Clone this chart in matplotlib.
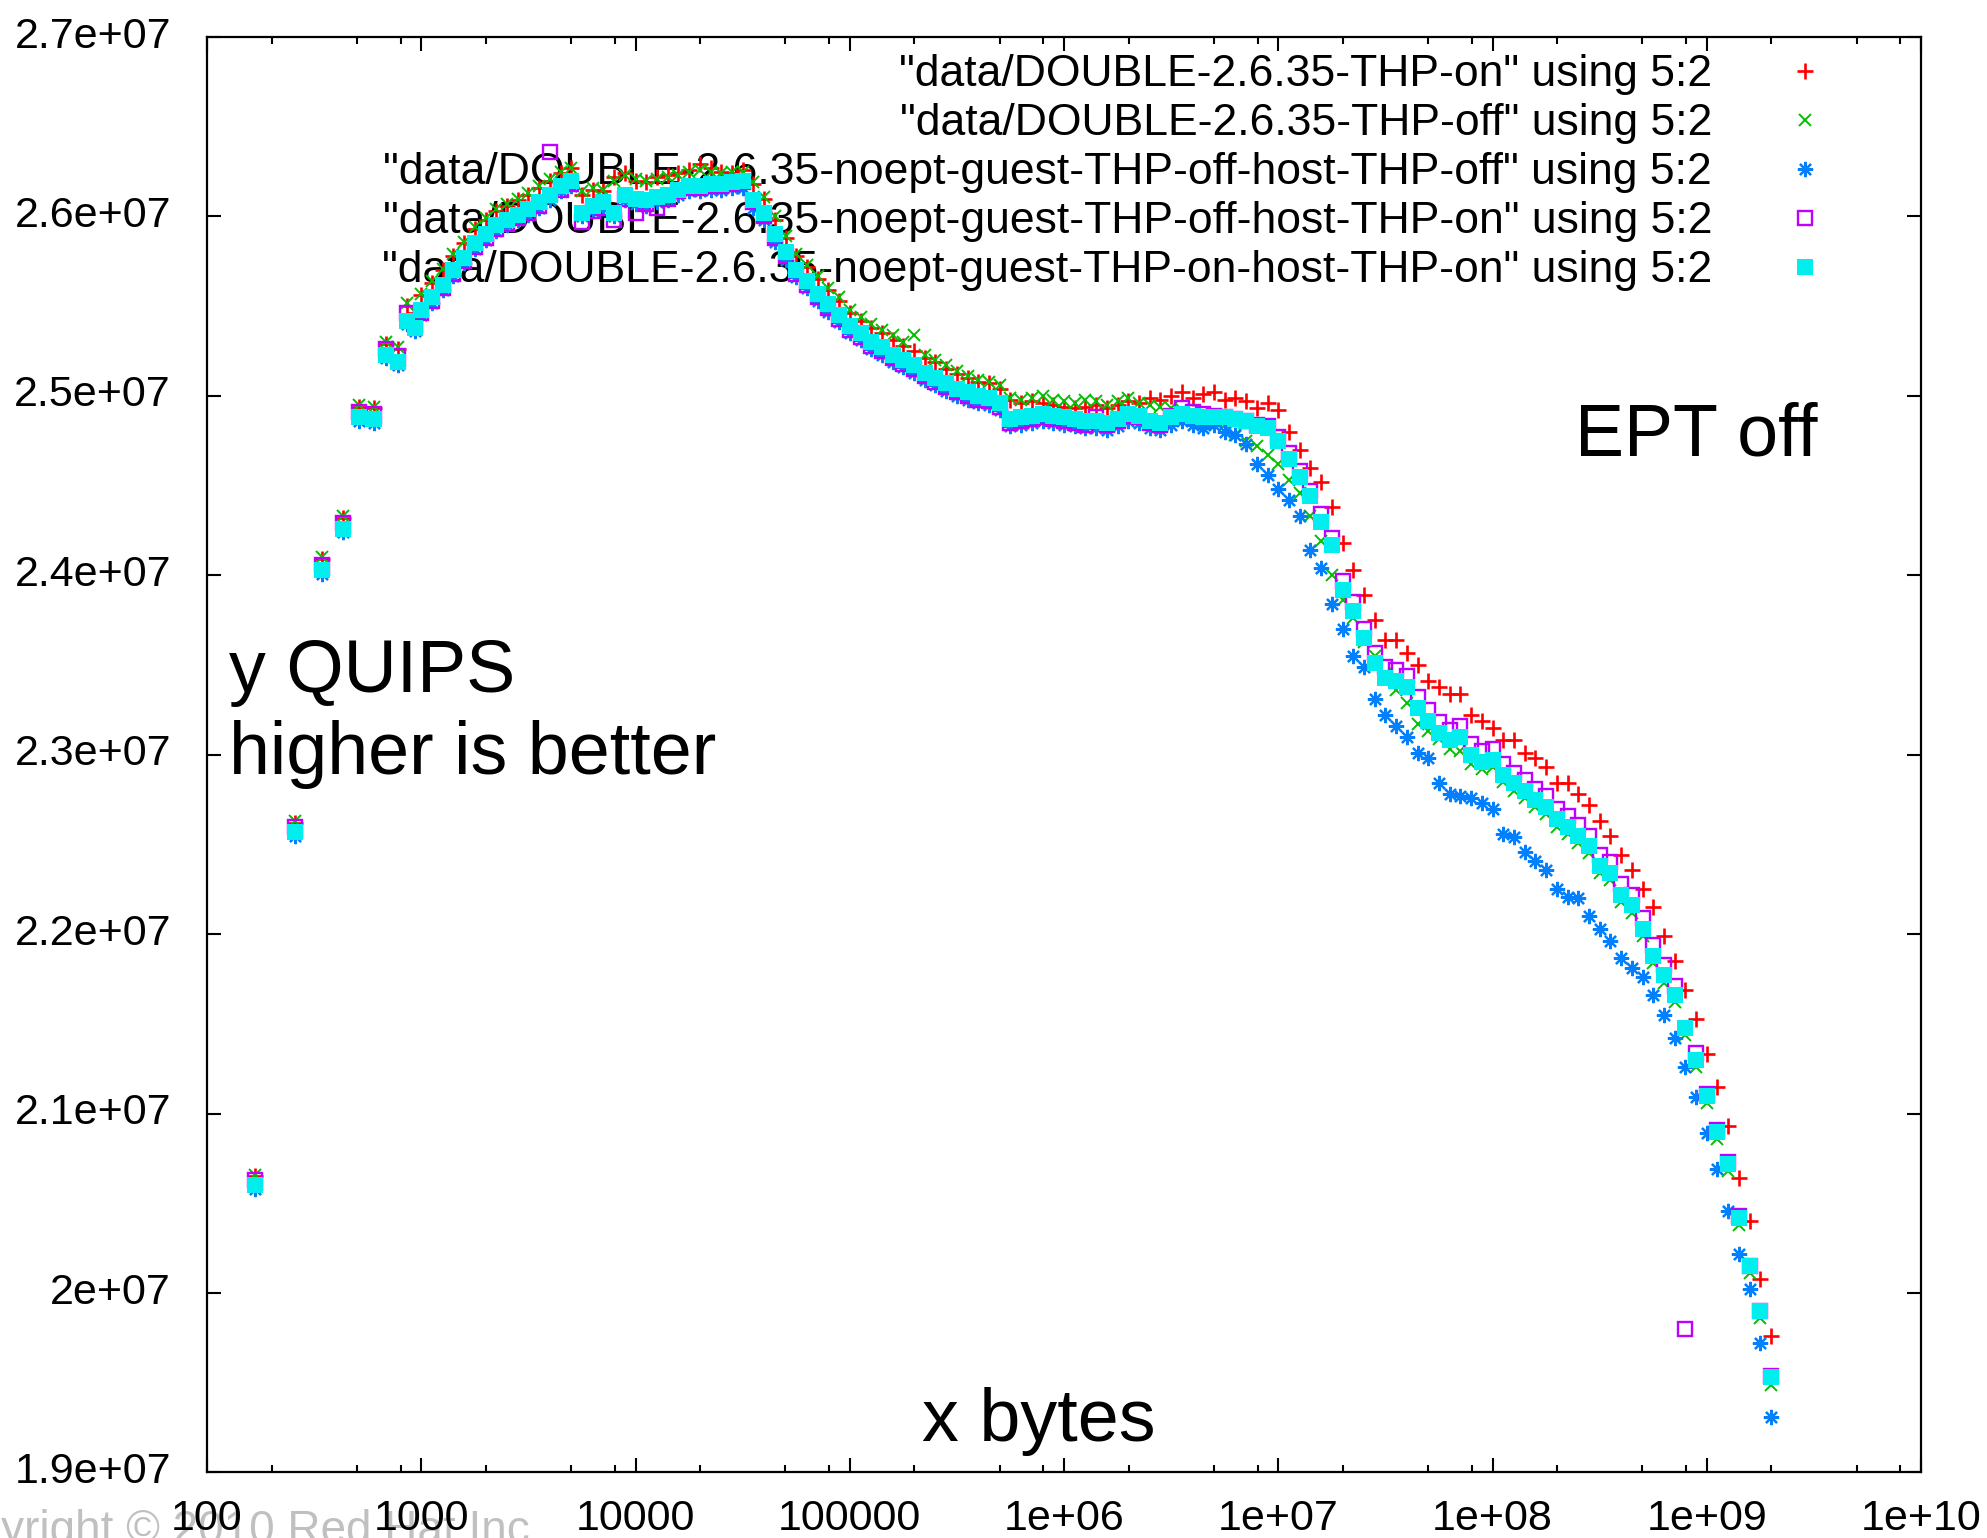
import numpy as np
import matplotlib
matplotlib.use("Agg")
import matplotlib.pyplot as plt
from matplotlib.ticker import FixedLocator, NullFormatter
from matplotlib.transforms import ScaledTranslation

plt.rcParams['font.family'] = ['Liberation Sans', 'DejaVu Sans']

# HINT DOUBLE runs, x = memory in bytes, y = QUIPS in millions
x_bytes = [168, 256, 344, 432, 512, 600, 688, 776, 856, 936,
           1.000e3, 1.122e3, 1.259e3, 1.413e3, 1.585e3, 1.778e3, 1.995e3, 2.239e3, 2.512e3, 2.818e3,
           3.162e3, 3.548e3, 3.981e3, 4.467e3, 5.012e3, 5.623e3, 6.310e3, 7.079e3, 7.943e3, 8.913e3,
           1.000e4, 1.122e4, 1.259e4, 1.413e4, 1.585e4, 1.778e4, 1.995e4, 2.239e4, 2.512e4, 2.818e4,
           3.162e4, 3.548e4, 3.981e4, 4.467e4, 5.012e4, 5.623e4, 6.310e4, 7.079e4, 7.943e4, 8.913e4,
           1.000e5, 1.122e5, 1.259e5, 1.413e5, 1.585e5, 1.778e5, 1.995e5, 2.239e5, 2.512e5, 2.818e5,
           3.162e5, 3.548e5, 3.981e5, 4.467e5, 5.012e5, 5.623e5, 6.310e5, 7.079e5, 7.943e5, 8.913e5,
           1.000e6, 1.122e6, 1.259e6, 1.413e6, 1.585e6, 1.778e6, 1.995e6, 2.239e6, 2.512e6, 2.818e6,
           3.162e6, 3.548e6, 3.981e6, 4.467e6, 5.012e6, 5.623e6, 6.310e6, 7.079e6, 7.943e6, 8.913e6,
           1.000e7, 1.122e7, 1.259e7, 1.413e7, 1.585e7, 1.778e7, 1.995e7, 2.239e7, 2.512e7, 2.818e7,
           3.162e7, 3.548e7, 3.981e7, 4.467e7, 5.012e7, 5.623e7, 6.310e7, 7.079e7, 7.943e7, 8.913e7,
           1.000e8, 1.122e8, 1.259e8, 1.413e8, 1.585e8, 1.778e8, 1.995e8, 2.239e8, 2.512e8, 2.818e8,
           3.162e8, 3.548e8, 3.981e8, 4.467e8, 5.012e8, 5.623e8, 6.310e8, 7.079e8, 7.943e8, 8.913e8,
           1.000e9, 1.122e9, 1.259e9, 1.413e9, 1.585e9, 1.778e9, 1.995e9]

thp_on = [20.65, 22.62, 24.09, 24.32, 24.94, 24.93, 25.29, 25.26, 25.50, 25.46,
          25.56, 25.63, 25.70, 25.78, 25.85, 25.93, 25.98, 26.03, 26.06, 26.09,
          26.12, 26.16, 26.20, 26.24, 26.27, 26.12, 26.15, 26.14, 26.22, 26.24,
          26.20, 26.19, 26.22, 26.23, 26.24, 26.26, 26.29, 26.27, 26.25, 26.24,
          26.26, 26.18, 26.10, 25.98, 25.88, 25.78, 25.72, 25.65, 25.59, 25.53,
          25.46, 25.42, 25.38, 25.35, 25.31, 25.28, 25.25, 25.21, 25.19, 25.15,
          25.12, 25.10, 25.08, 25.07, 25.04, 24.98, 24.96, 24.97, 24.96, 24.95,
          24.94, 24.93, 24.94, 24.95, 24.93, 24.95, 24.97, 24.96, 24.99, 24.98,
          25.00, 25.02, 24.99, 25.01, 25.02, 24.98, 24.99, 24.97, 24.93, 24.96,
          24.92, 24.80, 24.70, 24.60, 24.52, 24.38, 24.18, 24.03, 23.89, 23.75,
          23.64, 23.64, 23.57, 23.50, 23.41, 23.38, 23.34, 23.34, 23.22, 23.19,
          23.15, 23.08, 23.08, 23.01, 22.98, 22.93, 22.84, 22.84, 22.78, 22.72,
          22.63, 22.55, 22.44, 22.36, 22.25, 22.15, 21.99, 21.85, 21.69, 21.53,
          21.33, 21.15, 20.93, 20.64, 20.40, 20.08, 19.76]

thp_off = [20.66, 22.63, 24.10, 24.33, 24.95, 24.94, 25.30, 25.27, 25.52, 25.47,
           25.57, 25.64, 25.71, 25.79, 25.86, 25.94, 25.99, 26.04, 26.07, 26.10,
           26.13, 26.17, 26.21, 26.25, 26.27, 26.14, 26.16, 26.15, 26.20, 26.23,
           26.21, 26.20, 26.21, 26.22, 26.23, 26.25, 26.26, 26.25, 26.24, 26.25,
           26.25, 26.19, 26.11, 26.00, 25.89, 25.79, 25.73, 25.67, 25.60, 25.55,
           25.48, 25.44, 25.40, 25.37, 25.34, 25.30, 25.34, 25.23, 25.20, 25.17,
           25.14, 25.11, 25.09, 25.08, 25.06, 24.99, 24.98, 24.99, 25.00, 24.98,
           24.97, 24.96, 24.98, 24.97, 24.95, 24.97, 24.99, 24.96, 24.95, 24.94,
           24.93, 24.92, 24.91, 24.90, 24.88, 24.84, 24.78, 24.75, 24.72, 24.67,
           24.62, 24.53, 24.46, 24.33, 24.19, 24.00, 23.86, 23.76, 23.63, 23.55,
           23.45, 23.36, 23.29, 23.17, 23.13, 23.09, 23.03, 23.02, 22.95, 22.92,
           22.93, 22.85, 22.80, 22.76, 22.71, 22.67, 22.60, 22.56, 22.51, 22.45,
           22.34, 22.30, 22.18, 22.12, 21.99, 21.84, 21.73, 21.62, 21.44, 21.26,
           21.06, 20.86, 20.68, 20.38, 20.11, 19.86, 19.49]

noept_off_off = [20.58, 22.55, 24.01, 24.24, 24.86, 24.85, 25.21, 25.17, 25.40, 25.36,
                 25.45, 25.52, 25.59, 25.67, 25.74, 25.82, 25.87, 25.92, 25.95, 25.98,
                 26.01, 26.05, 26.09, 26.14, 26.17, 26.00, 26.03, 26.05, 26.00, 26.09,
                 26.07, 26.06, 26.08, 26.09, 26.12, 26.14, 26.14, 26.15, 26.15, 26.16,
                 26.16, 26.05, 25.98, 25.86, 25.76, 25.66, 25.60, 25.53, 25.47, 25.41,
                 25.35, 25.31, 25.26, 25.23, 25.19, 25.16, 25.13, 25.09, 25.06, 25.03,
                 25.00, 24.98, 24.96, 24.95, 24.92, 24.83, 24.84, 24.85, 24.86, 24.85,
                 24.84, 24.83, 24.82, 24.82, 24.81, 24.83, 24.86, 24.85, 24.82, 24.81,
                 24.84, 24.86, 24.84, 24.82, 24.84, 24.80, 24.78, 24.73, 24.62, 24.56,
                 24.48, 24.42, 24.33, 24.14, 24.04, 23.84, 23.70, 23.55, 23.49, 23.31,
                 23.22, 23.16, 23.10, 23.01, 22.98, 22.84, 22.78, 22.77, 22.76, 22.73,
                 22.70, 22.56, 22.54, 22.46, 22.41, 22.36, 22.25, 22.21, 22.20, 22.10,
                 22.03, 21.96, 21.87, 21.81, 21.76, 21.66, 21.55, 21.42, 21.26, 21.09,
                 20.89, 20.69, 20.46, 20.22, 20.02, 19.72, 19.31]

noept_off_on = [20.63, 22.60, 24.06, 24.29, 24.91, 24.90, 25.26, 25.22, 25.46, 25.41,
                25.46, 25.53, 25.60, 25.68, 25.75, 25.83, 25.88, 25.93, 25.96, 25.99,
                26.02, 26.06, 26.36, 26.15, 26.18, 25.97, 26.03, 26.05, 25.98, 26.10,
                26.02, 26.07, 26.05, 26.10, 26.14, 26.16, 26.16, 26.17, 26.17, 26.18,
                26.19, 26.08, 26.00, 25.88, 25.78, 25.68, 25.62, 25.55, 25.49, 25.43,
                25.37, 25.33, 25.28, 25.25, 25.21, 25.18, 25.15, 25.11, 25.08, 25.05,
                25.02, 25.00, 24.98, 24.97, 24.94, 24.85, 24.86, 24.87, 24.88, 24.87,
                24.86, 24.85, 24.84, 24.88, 24.84, 24.86, 24.89, 24.88, 24.85, 24.84,
                24.89, 24.93, 24.91, 24.90, 24.89, 24.88, 24.87, 24.86, 24.84, 24.83,
                24.77, 24.68, 24.58, 24.47, 24.34, 24.21, 23.97, 23.85, 23.70, 23.57,
                23.49, 23.47, 23.44, 23.32, 23.25, 23.18, 23.14, 23.16, 23.06, 23.02,
                23.03, 22.95, 22.90, 22.86, 22.81, 22.77, 22.70, 22.66, 22.61, 22.55,
                22.44, 22.40, 22.28, 22.22, 22.09, 21.94, 21.83, 21.71, 19.80, 21.34,
                21.11, 20.91, 20.73, 20.43, 20.15, 19.90, 19.54]

noept_on_on = [20.60, 22.57, 24.03, 24.26, 24.88, 24.87, 25.23, 25.19, 25.42, 25.38,
               25.48, 25.55, 25.62, 25.70, 25.77, 25.85, 25.90, 25.95, 25.98, 26.01,
               26.04, 26.08, 26.12, 26.17, 26.20, 26.02, 26.06, 26.08, 26.02, 26.12,
               26.10, 26.09, 26.11, 26.12, 26.15, 26.17, 26.17, 26.18, 26.18, 26.19,
               26.20, 26.09, 26.02, 25.90, 25.80, 25.70, 25.64, 25.57, 25.51, 25.45,
               25.39, 25.35, 25.30, 25.27, 25.23, 25.20, 25.17, 25.13, 25.10, 25.07,
               25.04, 25.02, 25.00, 24.99, 24.96, 24.87, 24.88, 24.89, 24.90, 24.89,
               24.88, 24.87, 24.86, 24.86, 24.85, 24.87, 24.90, 24.89, 24.86, 24.85,
               24.88, 24.90, 24.89, 24.88, 24.88, 24.88, 24.87, 24.86, 24.83, 24.82,
               24.75, 24.65, 24.55, 24.44, 24.30, 24.17, 23.92, 23.80, 23.65, 23.51,
               23.43, 23.41, 23.38, 23.26, 23.19, 23.12, 23.08, 23.10, 23.00, 22.96,
               22.97, 22.89, 22.84, 22.80, 22.75, 22.71, 22.64, 22.60, 22.55, 22.49,
               22.38, 22.34, 22.22, 22.16, 22.03, 21.88, 21.77, 21.66, 21.48, 21.30,
               21.10, 20.90, 20.72, 20.42, 20.15, 19.90, 19.53]

labels = ['"data/DOUBLE-2.6.35-THP-on" using 5:2',
          '"data/DOUBLE-2.6.35-THP-off" using 5:2',
          '"data/DOUBLE-2.6.35-noept-guest-THP-off-host-THP-off" using 5:2',
          '"data/DOUBLE-2.6.35-noept-guest-THP-off-host-THP-on" using 5:2',
          '"data/DOUBLE-2.6.35-noept-guest-THP-on-host-THP-on" using 5:2']

x_ticks = [1e2, 1e3, 1e4, 1e5, 1e6, 1e7, 1e8, 1e9, 1e10]
x_tick_labels = ['100', '1000', '10000', '100000', '1e+06', '1e+07', '1e+08', '1e+09', '1e+10']
y_ticks = [1.9e7, 2.0e7, 2.1e7, 2.2e7, 2.3e7, 2.4e7, 2.5e7, 2.6e7, 2.7e7]
y_tick_labels = ['1.9e+07', '2e+07', '2.1e+07', '2.2e+07', '2.3e+07', '2.4e+07', '2.5e+07', '2.6e+07', '2.7e+07']

fig = plt.figure(figsize=(19.87, 15.38), dpi=100)
ax = fig.add_axes([0.1042, 0.0426, 0.8626, 0.9333])

x = np.array(x_bytes)
ax.plot(x, np.array(thp_on) * 1e6, ls='none', marker='+', ms=11, mew=1.9,
        color='#ff0000', label=labels[0])
ax.plot(x, np.array(thp_off) * 1e6, ls='none', marker='x', ms=9, mew=1.4,
        color='#00c000', label=labels[1])
ax.plot(x, np.array(noept_off_off) * 1e6, ls='none', marker=(8, 2, 0), ms=11, mew=1.6,
        color='#0080ff', label=labels[2])
ax.plot(x, np.array(noept_off_on) * 1e6, ls='none', marker='s', ms=10, mew=1.7,
        mfc='none', mec='#c000ff', label=labels[3])
ax.plot(x, np.array(noept_on_on) * 1e6, ls='none', marker='s', ms=11, mew=0,
        mfc='#00eeee', mec='#00eeee', label=labels[4])

ax.set_xscale('log')
ax.set_xlim(1e2, 1e10)
ax.set_ylim(1.9e7, 2.7e7)
ax.set_xticks(x_ticks, x_tick_labels)
ax.xaxis.set_minor_locator(FixedLocator([s * 10.0 ** k for k in range(2, 10) for s in (2, 5, 8)]))
ax.xaxis.set_minor_formatter(NullFormatter())
ax.set_yticks(y_ticks, y_tick_labels)

ax.tick_params(which='both', direction='in', top=True, right=True, width=1.5,
               labelsize=31, color='black')
ax.tick_params(which='major', length=10)
ax.tick_params(which='minor', length=5)
ax.tick_params(axis='y', pad=26)
ax.tick_params(axis='x', pad=19)
for lbl in ax.get_yticklabels():
    lbl.set_transform(lbl.get_transform() + ScaledTranslation(0, 0.05, fig.dpi_scale_trans))
for sp in ax.spines.values():
    sp.set_linewidth(1.6)

leg = ax.legend(loc='upper right', bbox_to_anchor=(0.9455, 0.9879), frameon=False,
                markerfirst=False, fontsize=32, handlelength=1.0, handletextpad=1.6,
                labelspacing=0.18, borderpad=0, borderaxespad=0)
leg.set_zorder(1)

fig.text(1575 / 1987, 1 - 456 / 1538, 'EPT off', fontsize=53, va='baseline')
fig.text(229 / 1987, 1 - 692 / 1538, 'y QUIPS', fontsize=53, va='baseline')
fig.text(229 / 1987, 1 - 774 / 1538, 'higher is better', fontsize=53, va='baseline')
fig.text(922 / 1987, 1 - 1441 / 1538, 'x bytes', fontsize=53, va='baseline')
fig.text(530 / 1987, 1 - 1543 / 1538, 'Copyright © 2010 Red Hat Inc', fontsize=33,
         ha='right', va='baseline', color='#c0c0c0', zorder=-1)

fig.savefig('out.png', dpi=100)
